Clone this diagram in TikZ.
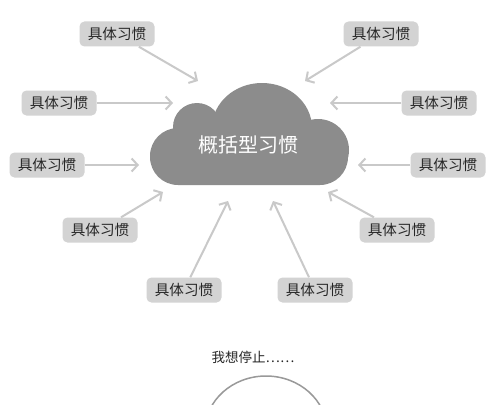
\documentclass[tikz,border=0pt]{standalone}
\usepackage{fontspec}
\usepackage{tikz}
\usetikzlibrary{positioning,arrows.meta}
\newfontfamily\cjk{Noto Sans CJK SC}
\definecolor{boxgray}{HTML}{D3D3D3}
\definecolor{linegray}{HTML}{C9C9C9}
\definecolor{cloudgray}{HTML}{8C8C8C}
\definecolor{textdark}{HTML}{262626}

\begin{document}
\begin{tikzpicture}[x=1pt, y=-1pt,
  habit/.style={fill=boxgray, rounded corners=5pt, minimum width=75pt, minimum height=25pt,
    inner sep=0pt, text=textdark, font=\cjk\fontsize{14.6}{16}\selectfont},
  pointer/.style={draw=linegray, line width=2pt, -{Straight Barb[length=6pt,width=13pt]}}]
\path[use as bounding box, fill=white] (0,0) rectangle (500,404);

% the cloud
\fill[cloudgray, rounded corners=28pt] (150,128) rectangle (348,185);
\fill[cloudgray] (197,127) circle (24);
\fill[cloudgray] (262,128) ellipse (50 and 45);
\fill[cloudgray] (318,150) circle (31);
\node [text=white, font=\cjk\fontsize{20}{24}\selectfont] (general) at (248,145) {概括型习惯};

% where the arrows stop
\coordinate (t1) at (198,81);
\coordinate (t2) at (173,103);
\coordinate (t3) at (139,165);
\coordinate (t4) at (163,192);
\coordinate (t5) at (228,201);
\coordinate (t6) at (273,201);
\coordinate (t7) at (328,192);
\coordinate (t8) at (358,165);
\coordinate (t9) at (330,103);
\coordinate (t10) at (305,81);

\node [habit] (b1) at (117,34) {具体习惯};
\node [habit] (b2) at (59,103) {具体习惯};
\node [habit] (b3) at (47,165) {具体习惯};
\node [habit] (b4) at (100,230) {具体习惯};
\node [habit] (b5) at (184,290) {具体习惯};
\node [habit] (b6) at (315,290) {具体习惯};
\node [habit] (b7) at (397,230) {具体习惯};
\node [habit] (b8) at (448,165) {具体习惯};
\node [habit] (b9) at (439,103) {具体习惯};
\node [habit] (b10) at (381,34) {具体习惯};

\path[every edge/.style={pointer}]
 (b1) edge (t1)
 (b2) edge (t2)
 (b3) edge (t3)
 (b4) edge (t4)
 (b5) edge (t5)
 (b6) edge (t6)
 (b7) edge (t7)
 (b8) edge (t8)
 (b9) edge (t9)
 (b10) edge (t10);

% next part, cut off at the bottom
\node [text=textdark, font=\cjk\fontsize{13.5}{16}\selectfont] (stop) at (253,357) {我想停止……};
\begin{scope}
\clip (0,0) rectangle (500,404);
\draw[gray!80, line width=1.5pt] (266,431) ellipse (61 and 55);
\end{scope}
\end{tikzpicture}
\end{document}
